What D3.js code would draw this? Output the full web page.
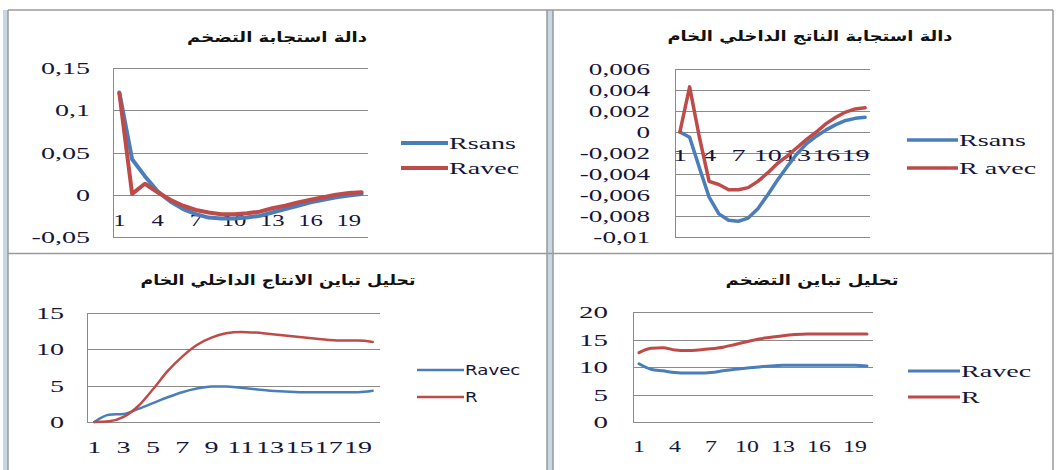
<!DOCTYPE html>
<html>
<head>
<meta charset="utf-8">
<script src="https://cdn.jsdelivr.net/npm/d3@7"></script>
<style>
  body { margin: 0; background: #fff; }
  svg { display: block; }
</style>
</head>
<body>
<svg id="chart" width="1057" height="470"></svg>
<script>
// periods 1..20 (categories shared by all four charts)
var periods = d3.range(1, 21);

// top-left : inflation impulse response
var infRsans = [0.121, 0.042, 0.022, 0.004, -0.008, -0.017, -0.023, -0.027, -0.028, -0.028,
                -0.027, -0.025, -0.021, -0.017, -0.013, -0.009, -0.006, -0.003, -0.001, 0.001];
var infRavec = [0.120, 0.001, 0.013, 0.003, -0.006, -0.013, -0.018, -0.021, -0.023, -0.023,
                -0.022, -0.020, -0.016, -0.013, -0.009, -0.006, -0.003, 0.000, 0.002, 0.003];
var infTicks = [-0.05, 0, 0.05, 0.1, 0.15];

// top-right : GDP impulse response
var gdpRsans = [0, -0.0005, -0.0034, -0.0062, -0.0078, -0.0084, -0.0085, -0.0082, -0.0073, -0.006,
                -0.0046, -0.0033, -0.0021, -0.0011, -0.0004, 0.0002, 0.0007, 0.0011, 0.0013, 0.0014];
var gdpRavec = [0, 0.0043, -0.0005, -0.0047, -0.005, -0.0055, -0.0055, -0.0053, -0.0047, -0.0039,
                -0.003, -0.0023, -0.0015, -0.0007, 0.0, 0.0008, 0.0014, 0.0019, 0.0022, 0.0023];
var gdpTicks = [-0.01, -0.008, -0.006, -0.004, -0.002, 0, 0.002, 0.004, 0.006];

// bottom-left : GDP variance decomposition
var gdpVarRavec = [0, 1.0, 1.1, 1.8, 2.6, 3.4, 4.1, 4.6, 4.9, 4.9,
                   4.7, 4.5, 4.3, 4.2, 4.1, 4.1, 4.1, 4.1, 4.1, 4.3];
var gdpVarR = [0, 0.1, 0.7, 2.2, 4.5, 7.0, 9.0, 10.6, 11.6, 12.2,
               12.4, 12.3, 12.1, 11.9, 11.7, 11.5, 11.3, 11.2, 11.2, 11.0];
var gdpVarTicks = [0, 5, 10, 15];

// bottom-right : inflation variance decomposition
var infVarRavec = [10.6, 9.6, 9.3, 9.0, 8.9, 8.9, 9.0, 9.3, 9.6, 9.8,
                   10.0, 10.2, 10.3, 10.3, 10.3, 10.3, 10.3, 10.3, 10.3, 10.2];
var infVarR = [12.6, 13.4, 13.5, 13.1, 13.0, 13.1, 13.3, 13.6, 14.1, 14.6,
               15.1, 15.4, 15.7, 15.9, 16.0, 16.0, 16.0, 16.0, 16.0, 16.0];
var infVarTicks = [0, 5, 10, 15, 20];

var blue = "#4a7ebb", red = "#be4b48";
var ink = "#15153a";
var serif = "'Liberation Serif', 'Times New Roman', serif";

var svg = d3.select("#chart");

// frame of the pasted excel charts
function frame() {
  var g = svg.append("g");
  g.append("rect").attr("x", 3).attr("y", 10).attr("width", 5).attr("height", 460).attr("fill", "#c9d6e4");
  g.append("rect").attr("x", 547).attr("y", 10).attr("width", 6).attr("height", 460).attr("fill", "#c9d6e4");
  var ln = [[8, 10, 1053, 10], [8, 10, 8, 470], [547, 10, 547, 470], [553, 10, 553, 470],
            [1053, 10, 1053, 470], [8, 253.5, 1053, 253.5]];
  g.selectAll("line").data(ln).enter().append("line")
    .attr("x1", function (d) { return d[0]; }).attr("y1", function (d) { return d[1]; })
    .attr("x2", function (d) { return d[2]; }).attr("y2", function (d) { return d[3]; })
    .attr("stroke", "#9a9a9a").attr("stroke-width", 1.5);
}

function stretch(sel, k) {  // the screenshot is widened, so widen the glyphs too
  sel.each(function () {
    var w = this.getComputedTextLength();
    d3.select(this).attr("textLength", w * k).attr("lengthAdjust", "spacingAndGlyphs");
  });
}

function fmt(d) {
  return String(Math.round(d * 1e6) / 1e6).replace(".", ",");
}

function drawPanel(c) {
  var g = svg.append("g");

  var x = d3.scalePoint().domain(periods).range([c.x0, c.x1]).padding(0.5);
  var y = d3.scaleLinear().domain(c.domain).range([c.y1, c.y0]);

  // grid
  g.selectAll(".grid").data(c.ticks).enter().append("line")
    .attr("x1", c.x0).attr("x2", c.x1)
    .attr("y1", function (d) { return Math.round(y(d)) + 0.5; })
    .attr("y2", function (d) { return Math.round(y(d)) + 0.5; })
    .attr("stroke", "#8a8a8a").attr("stroke-width", 1);
  g.append("line").attr("x1", c.x0 + 0.5).attr("x2", c.x0 + 0.5).attr("y1", c.y0).attr("y2", c.y1)
    .attr("stroke", "#8a8a8a");

  // y labels
  var yl = g.selectAll(".yl").data(c.ticks).enter().append("text")
    .attr("x", c.yLabelX).attr("y", function (d) { return y(d); })
    .attr("dy", "0.36em").attr("text-anchor", "end")
    .attr("font-family", serif).attr("font-size", c.fs).attr("fill", ink)
    .text(fmt);
  stretch(yl, c.k);

  // x labels
  var xl = g.selectAll(".xl").data(periods.filter(function (p) { return (p - 1) % c.every == 0; }))
    .enter().append("text")
    .attr("x", function (d) { return x(d); }).attr("y", c.xLabelY)
    .attr("dy", "0.36em").attr("text-anchor", "middle")
    .attr("font-family", serif).attr("font-size", c.fs).attr("fill", ink)
    .text(function (d) { return d; });
  stretch(xl, c.kx);

  // series
  var line = d3.line()
    .x(function (d, i) { return x(periods[i]); })
    .y(function (d) { return y(d); })
    .curve(c.curve);
  c.series.forEach(function (s) {
    g.append("path").datum(s.values)
      .attr("d", line).attr("fill", "none")
      .attr("stroke", s.color).attr("stroke-width", c.sw)
      .attr("stroke-linejoin", "round").attr("stroke-linecap", "round");
  });

  // legend
  c.series.forEach(function (s, i) {
    var ly = c.legend.y[i];
    g.append("line").attr("x1", c.legend.x).attr("x2", c.legend.x + c.legend.len)
      .attr("y1", ly).attr("y2", ly).attr("stroke", s.color).attr("stroke-width", c.sw);
    var t = g.append("text").attr("x", c.legend.x + c.legend.len + 1).attr("y", ly)
      .attr("dy", "0.36em")
      .attr("font-family", c.legend.font).attr("font-size", c.legend.fs).attr("fill", ink)
      .text(s.name);
    stretch(t, c.legend.k);
  });

  // title
  g.append("text").attr("x", c.title.x).attr("y", c.title.y)
    .attr("dy", "0.36em").attr("text-anchor", "middle")
    .attr("font-family", "DejaVu Sans").attr("font-weight", "bold").attr("font-size", 14)
    .attr("fill", "#111").attr("direction", "rtl")
    .attr("textLength", c.title.w).attr("lengthAdjust", "spacingAndGlyphs")
    .text(c.title.text);
}

frame();

drawPanel({
  x0: 113, x1: 368, y0: 68, y1: 237, domain: [-0.05, 0.15], ticks: infTicks,
  yLabelX: 90, xLabelY: 220, every: 3, fs: 17, k: 1.65, kx: 1.45,
  sw: 4, curve: d3.curveLinear,
  series: [{ name: "Rsans", values: infRsans, color: blue }, { name: "Ravec", values: infRavec, color: red }],
  legend: { x: 401, y: [143, 168], len: 47, font: serif, fs: 17, k: 1.65 },
  title: { x: 277, y: 37, w: 180, text: "دالة استجابة التضخم" }
});

drawPanel({
  x0: 675, x1: 870, y0: 69, y1: 237, domain: [-0.01, 0.006], ticks: gdpTicks,
  yLabelX: 650, xLabelY: 155, every: 3, fs: 16, k: 1.7, kx: 1.75,
  sw: 3.5, curve: d3.curveLinear,
  series: [{ name: "Rsans", values: gdpRsans, color: blue }, { name: "R avec", values: gdpRavec, color: red }],
  legend: { x: 907, y: [140, 168], len: 51, font: serif, fs: 17, k: 1.65 },
  title: { x: 810, y: 36, w: 285, text: "دالة استجابة الناتج الداخلي الخام" }
});

drawPanel({
  x0: 87, x1: 380, y0: 313, y1: 422, domain: [0, 15], ticks: gdpVarTicks,
  yLabelX: 64, xLabelY: 447, every: 2, fs: 17, k: 1.65, kx: 1.65,
  sw: 2.5, curve: d3.curveMonotoneX,
  series: [{ name: "Ravec", values: gdpVarRavec, color: blue }, { name: "R", values: gdpVarR, color: red }],
  legend: { x: 417, y: [370, 397], len: 47, font: "DejaVu Sans", fs: 14, k: 1.3 },
  title: { x: 278, y: 280, w: 275, text: "تحليل تباين الانتاج الداخلي الخام" }
});

drawPanel({
  x0: 633, x1: 873, y0: 312, y1: 422, domain: [0, 20], ticks: infVarTicks,
  yLabelX: 608, xLabelY: 446, every: 3, fs: 17, k: 1.7, kx: 1.4,
  sw: 3, curve: d3.curveMonotoneX,
  series: [{ name: "Ravec", values: infVarRavec, color: blue }, { name: "R", values: infVarR, color: red }],
  legend: { x: 908, y: [371, 397], len: 52, font: serif, fs: 17, k: 1.65 },
  title: { x: 812, y: 280, w: 173, text: "تحليل تباين التضخم" }
});
</script>
</body>
</html>
